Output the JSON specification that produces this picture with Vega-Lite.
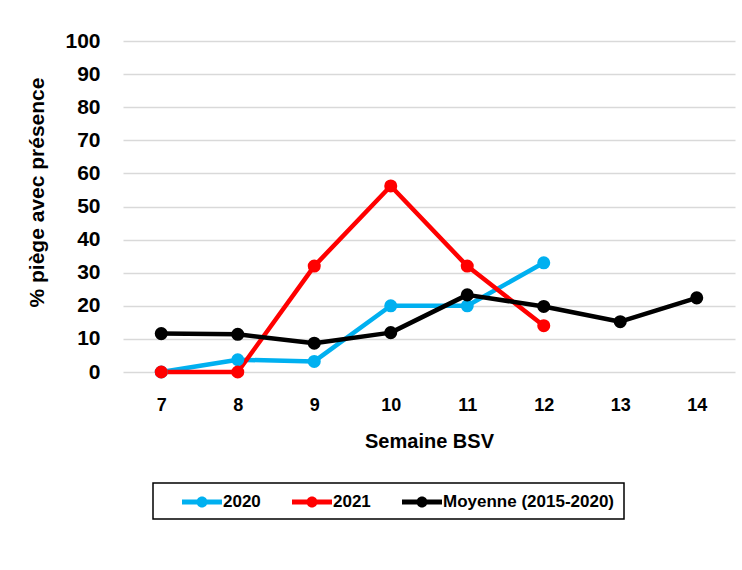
{
  "$schema": "https://vega.github.io/schema/vega-lite/v6.json",
  "autosize": "none",
  "width": 612,
  "height": 331,
  "padding": {"left": 123, "top": 41, "right": 7, "bottom": 198},
  "background": "white",
  "config": {
    "view": {"stroke": null},
    "font": "Liberation Sans"
  },
  "data": {
    "values": [
      {"week": 7, "serie": "2020", "value": 0},
      {"week": 8, "serie": "2020", "value": 3.7},
      {"week": 9, "serie": "2020", "value": 3.2},
      {"week": 10, "serie": "2020", "value": 20},
      {"week": 11, "serie": "2020", "value": 20},
      {"week": 12, "serie": "2020", "value": 33},
      {"week": 7, "serie": "2021", "value": 0},
      {"week": 8, "serie": "2021", "value": 0},
      {"week": 9, "serie": "2021", "value": 32},
      {"week": 10, "serie": "2021", "value": 56.2},
      {"week": 11, "serie": "2021", "value": 32},
      {"week": 12, "serie": "2021", "value": 14},
      {"week": 7, "serie": "Moyenne (2015-2020)", "value": 11.6},
      {"week": 8, "serie": "Moyenne (2015-2020)", "value": 11.4},
      {"week": 9, "serie": "Moyenne (2015-2020)", "value": 8.7},
      {"week": 10, "serie": "Moyenne (2015-2020)", "value": 11.9},
      {"week": 11, "serie": "Moyenne (2015-2020)", "value": 23.3},
      {"week": 12, "serie": "Moyenne (2015-2020)", "value": 19.8},
      {"week": 13, "serie": "Moyenne (2015-2020)", "value": 15.2},
      {"week": 14, "serie": "Moyenne (2015-2020)", "value": 22.4}
    ]
  },
  "encoding": {
    "x": {
      "field": "week",
      "type": "ordinal",
      "scale": {"type": "point", "padding": 0.5},
      "axis": {
        "title": "Semaine BSV",
        "labelAngle": 0,
        "labelFont": "Liberation Sans",
        "labelFontSize": 18,
        "labelFontWeight": "bold",
        "labelColor": "black",
        "labelPadding": 24,
        "domain": false,
        "ticks": false,
        "grid": false,
        "titleFont": "Liberation Sans",
        "titleFontSize": 20,
        "titleFontWeight": "bold",
        "titleColor": "black",
        "titleY": 69,
        "titleBaseline": "middle"
      }
    },
    "y": {
      "field": "value",
      "type": "quantitative",
      "scale": {"domain": [0, 100]},
      "axis": {
        "title": "% piège avec présence",
        "values": [0, 10, 20, 30, 40, 50, 60, 70, 80, 90, 100],
        "labelFont": "Liberation Sans",
        "labelFontSize": 21,
        "labelFontWeight": "bold",
        "labelColor": "black",
        "labelPadding": 23,
        "domain": false,
        "ticks": false,
        "grid": true,
        "gridColor": "#d9d9d9",
        "gridWidth": 1.3,
        "titleFont": "Liberation Sans",
        "titleFontSize": 21,
        "titleFontWeight": "bold",
        "titleColor": "black",
        "titleAngle": -90,
        "titleX": -86,
        "titleY": 151,
        "titleAlign": "center",
        "titleBaseline": "middle"
      }
    },
    "color": {
      "field": "serie",
      "type": "nominal",
      "scale": {
        "domain": ["2020", "2021", "Moyenne (2015-2020)"],
        "range": ["#00b0f0", "#ff0000", "#000000"]
      },
      "legend": {
        "title": " ",
        "titleOrient": "left",
        "titleFontSize": 1,
        "titlePadding": 30,
        "orient": "none",
        "direction": "horizontal",
        "columns": 3,
        "legendX": 30,
        "legendY": 442,
        "padding": 9,
        "strokeColor": "black",
        "fillColor": "white",
        "columnPadding": 31,
        "labelOffset": 11,
        "labelLimit": 400,
        "labelExpr": "datum.value == 'Moyenne (2015-2020)' ? datum.label + '\u2003\u2003\u2003' : datum.label",
        "labelFont": "Liberation Sans",
        "labelFontSize": 17,
        "labelFontWeight": "bold",
        "labelColor": "black",
        "symbolType": "M-2,-0.25L2,-0.25L2,0.25L-2,0.25Z M0.55,0A0.55,0.55,0,1,1,-0.55,0A0.55,0.55,0,1,1,0.55,0Z",
        "symbolSize": 400,
        "symbolStrokeWidth": 0,
        "symbolOpacity": 1,
        "encode": {
          "legend": {"update": {"strokeWidth": {"value": 1.5}}}
        }
      }
    }
  },
  "layer": [
    {
      "mark": {"type": "line", "strokeWidth": 4.5, "strokeJoin": "round"}
    },
    {
      "mark": {"type": "point", "filled": true, "size": 170, "opacity": 1}
    }
  ]
}
